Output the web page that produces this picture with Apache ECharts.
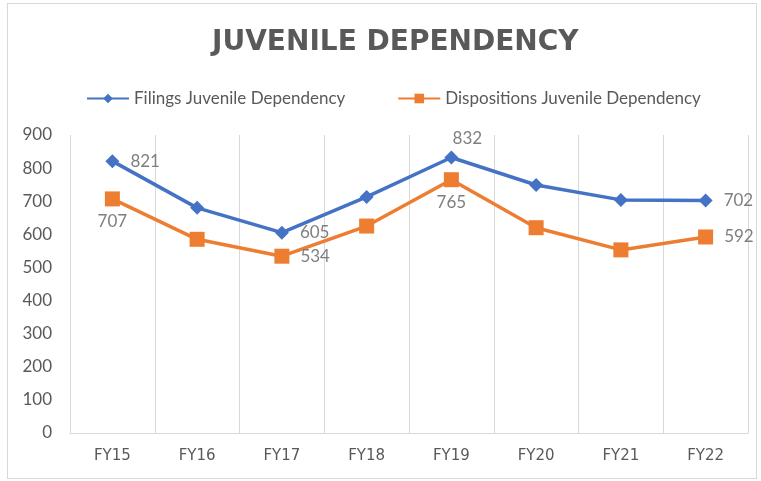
<!DOCTYPE html>
<html>
<head>
<meta charset="utf-8">
<script src="https://cdn.jsdelivr.net/npm/echarts@6/dist/echarts.min.js"></script>
<style>
  html, body { margin: 0; padding: 0; background: #fff; }
  #frame { position: absolute; left: 7px; top: 3px; width: 750px; height: 476px; border: 1px solid #d9d9d9; box-sizing: border-box; }
  #chart { width: 761px; height: 481px; }
</style>
</head>
<body>
<div id="frame"></div>
<div id="chart"></div>
<script>
// Fiscal years and case counts
const years = ['FY15', 'FY16', 'FY17', 'FY18', 'FY19', 'FY20', 'FY21', 'FY22'];
const filings = [821, 680, 605, 713, 832, 749, 704, 702];
const dispositions = [707, 585, 534, 625, 765, 620, 553, 592];
const yTicks = [0, 100, 200, 300, 400, 500, 600, 700, 800, 900];

// Only a few points carry a value label in the original
const filingLabels = { 0: 'right', 2: 'right', 4: 'top', 7: 'right' };
const dispoLabels = { 0: 'bottom', 2: 'right', 4: 'bottom', 7: 'right' };

const FONT = 'Lato';
const GRAY = '#595959';

function withLabels(values, positions) {
    return values.map(function(v, i) {
        const pos = positions[i];
        if (!pos) return v;
        const label = { show: true, position: pos, distance: 11, color: '#7f7f7f', fontSize: 17, fontFamily: FONT };
        if (pos === 'top') label.offset = [16, 8];
        if (pos === 'bottom') label.distance = 7;
        return { value: v, label: label };
    });
}

const chart = echarts.init(document.getElementById('chart'));
chart.setOption({
    animation: false,
    title: {
        text: 'JUVENILE DEPENDENCY',
        left: 207,
        top: 24,
        textStyle: { fontFamily: 'DejaVu Sans', fontWeight: 'bold', fontSize: 28, color: GRAY }
    },
    legend: {
        top: 85,
        left: 81,
        itemGap: 52,
        itemWidth: 42,
        itemHeight: 12,
        textStyle: { fontFamily: FONT, fontSize: 17, color: GRAY },
        data: ['Filings Juvenile Dependency', 'Dispositions Juvenile Dependency']
    },
    grid: { left: 70, right: 13, top: 135, bottom: 48 },
    xAxis: {
        type: 'category',
        data: years,
        boundaryGap: true,
        axisLine: { lineStyle: { color: '#d9d9d9', width: 1 } },
        axisTick: { show: false },
        axisLabel: { color: GRAY, fontFamily: 'DejaVu Sans', fontSize: 15, margin: 16 },
        splitLine: { show: true, lineStyle: { color: '#d9d9d9', width: 1 } }
    },
    yAxis: {
        type: 'value',
        min: yTicks[0],
        max: yTicks[yTicks.length - 1],
        interval: 100,
        axisLine: { show: false },
        axisTick: { show: false },
        axisLabel: { color: GRAY, fontFamily: FONT, fontSize: 17, margin: 18 },
        splitLine: { show: false }
    },
    series: [
        {
            name: 'Filings Juvenile Dependency',
            type: 'line',
            data: withLabels(filings, filingLabels),
            symbol: 'diamond',
            symbolSize: 14,
            color: '#4472C4',
            lineStyle: { width: 3.5, color: '#4472C4' },
            itemStyle: { color: '#4472C4' }
        },
        {
            name: 'Dispositions Juvenile Dependency',
            type: 'line',
            data: withLabels(dispositions, dispoLabels),
            symbol: 'rect',
            symbolSize: 15,
            color: '#ED7D31',
            lineStyle: { width: 3.5, color: '#ED7D31' },
            itemStyle: { color: '#ED7D31' }
        }
    ]
});
</script>
</body>
</html>
